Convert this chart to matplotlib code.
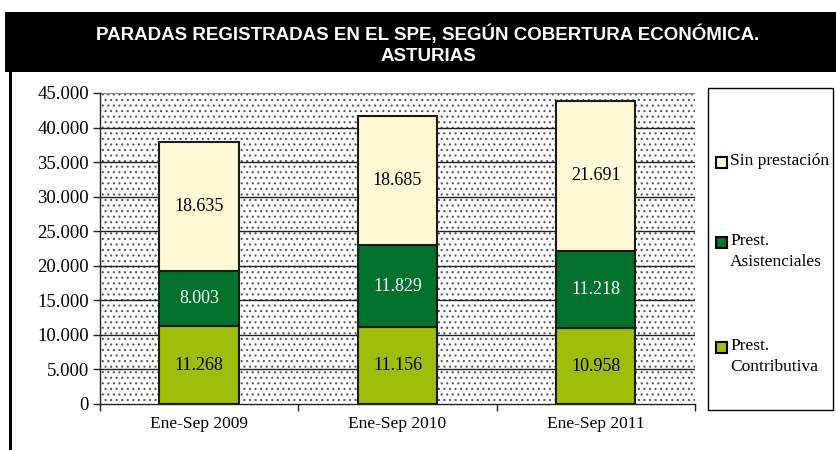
import matplotlib
matplotlib.use("Agg")
import matplotlib.pyplot as plt
from matplotlib.patches import Rectangle
from matplotlib.ticker import FuncFormatter, FixedLocator
import numpy as np

categories = ["Ene-Sep 2009", "Ene-Sep 2010", "Ene-Sep 2011"]
contributiva = [11268, 11156, 10958]
asistenciales = [8003, 11829, 11218]
sin_prestacion = [18635, 18685, 21691]
series_names = ["Prest.\nContributiva", "Prest.\nAsistenciales", "Sin prestación"]
colors = ["#9FBE0C", "#00722E", "#FFF9D6"]
label_colors = ["black", "white", "black"]
title = "PARADAS REGISTRADAS EN EL SPE, SEGÚN COBERTURA ECONÓMICA.\nASTURIAS"

plt.rcParams['hatch.color'] = '#555555'
plt.rcParams['hatch.linewidth'] = 0.8

W, H = 837, 450
fig = plt.figure(figsize=(W / 100, H / 100), dpi=100)

# Title banner
fig.patches.append(Rectangle((5 / W, 1 - 72 / H), 1 - 5 / W, 60 / H, transform=fig.transFigure,
                             facecolor="black", edgecolor="none"))
fig.patches.append(Rectangle((9 / W, 0), 3 / W, 1 - 72 / H, transform=fig.transFigure,
                             facecolor="black", edgecolor="none"))
fig.text(428 / W, 1 - 45 / H, title, ha="center", va="center", color="white",
         fontsize=13.5, fontweight="bold", family="Liberation Sans", linespacing=1.3)

# Axes
x0, x1, ytop, ybot = 100, 695, 93, 404
ax = fig.add_axes([x0 / W, 1 - ybot / H, (x1 - x0) / W, (ybot - ytop) / H])
ax.set_facecolor("white")
ax.add_patch(Rectangle((0, 0), 1, 1, transform=ax.transAxes, facecolor="white",
                       hatch="...", edgecolor="#555555", linewidth=0, zorder=0))
n = len(categories)
x = np.arange(n)
ax.set_xlim(-0.5, n - 0.5)
ax.set_ylim(0, 45000)
ax.set_yticks(np.arange(0, 45001, 5000))
ax.yaxis.set_major_formatter(FuncFormatter(lambda v, p: f"{int(v):,}".replace(",", ".")))
for y in np.arange(5000, 45001, 5000):
    ax.axhline(y, color="#222222" if y < 45000 else "#888888", linewidth=1.0, zorder=1)

bottom = np.zeros(n)
for vals, col, lc in zip([contributiva, asistenciales, sin_prestacion], colors, label_colors):
    vals = np.array(vals)
    ax.bar(x, vals, width=0.4, bottom=bottom, color=col, edgecolor="#1a1a1a", linewidth=1.5, zorder=3)
    for xi, b, v in zip(x, bottom, vals):
        ax.text(xi, b + v / 2, f"{v:,}".replace(",", "."), ha="center", va="center",
                color=lc, fontsize=13, family="Liberation Serif", zorder=4)
    bottom += vals

ax.set_xticks(x)
ax.set_xticklabels(categories, family="Liberation Serif", fontsize=12.5)
ax.tick_params(axis="x", length=0, pad=9)
ax.xaxis.set_minor_locator(FixedLocator([-0.5, 0.5, 1.5, 2.5]))
ax.tick_params(axis="x", which="minor", length=5, width=1, color="#222222")
ax.tick_params(axis="y", length=5, width=1, color="#222222", labelsize=13.5, pad=3)
for lbl in ax.get_yticklabels():
    lbl.set_family("Liberation Serif")
for s in ["top", "right"]:
    ax.spines[s].set_visible(False)
ax.spines["left"].set_color("#222222")
ax.spines["bottom"].set_color("#222222")
ax.spines["left"].set_linewidth(1)
ax.spines["bottom"].set_linewidth(1)

# Legend box
lx0, lx1, ly0, ly1 = 708, 833, 88, 410
fig.patches.append(Rectangle((lx0 / W, 1 - ly1 / H), (lx1 - lx0) / W, (ly1 - ly0) / H,
                             transform=fig.transFigure, facecolor="white", edgecolor="black", linewidth=1))
entries = [(2, 162), (1, 242), (0, 347)]
for idx, ytxt in entries:
    fig.patches.append(Rectangle((716 / W, 1 - (ytxt + 6) / H), 11 / W, 11 / H, transform=fig.transFigure,
                                 facecolor=colors[idx], edgecolor="black", linewidth=1.5))
    fig.text(730 / W, 1 - (ytxt - 9) / H, series_names[idx], ha="left", va="top",
             fontsize=12.5, family="Liberation Serif", linespacing=1.45)

fig.savefig("out.png", dpi=100)
